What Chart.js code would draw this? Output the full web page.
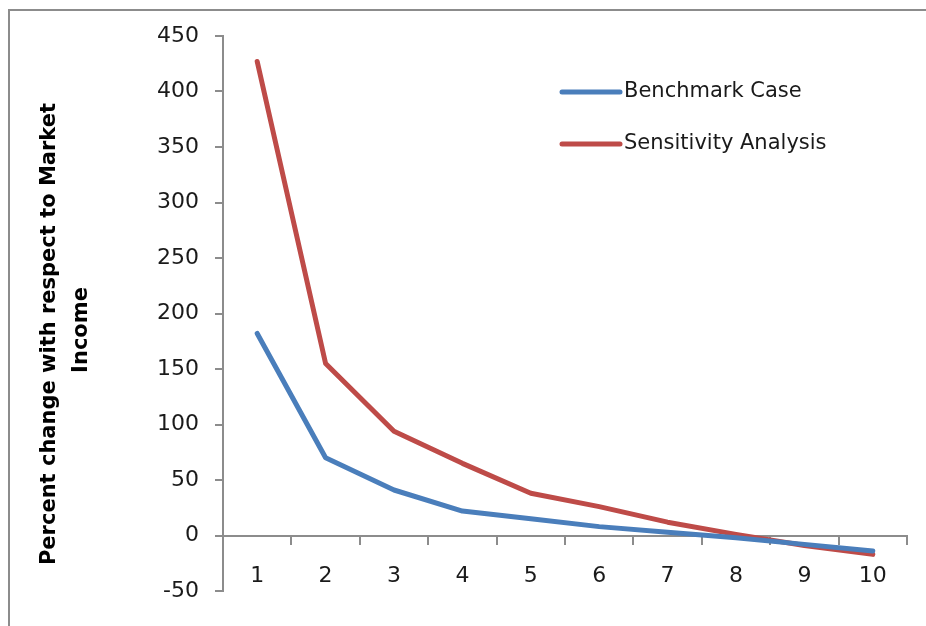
<!DOCTYPE html>
<html>
<head>
<meta charset="utf-8">
<script src="https://cdn.jsdelivr.net/npm/chart.js@4/dist/chart.umd.min.js"></script>
<style>
  html, body { margin: 0; padding: 0; background: #fff; overflow: hidden; }
  #wrap { width: 926px; height: 626px; }
</style>
</head>
<body>
<div id="wrap"><canvas id="chart" width="926" height="626"></canvas></div>
<script>
// Percent change with respect to market income, by decile
const CATEGORIES = ['1', '2', '3', '4', '5', '6', '7', '8', '9', '10'];
const BENCHMARK = [182, 70, 41, 22, 15, 8, 3, -2, -8, -14];
const SENSITIVITY = [427, 155, 94, 65, 38, 26, 12, 1, -9, -17];
const SERIES_LABELS = ['Benchmark Case', 'Sensitivity Analysis'];
const SERIES_COLORS = ['#4a7ebb', '#be4b48'];
const Y_TITLE = ['Percent change with respect to Market', 'Income'];

const AXIS_GRAY = '#8c8c8c';
const TEXT_COLOR = '#1a1a1a';

// outer frame like the Excel chart border (only top and left show)
const framePlugin = {
  id: 'frame',
  beforeDraw(chart) {
    const ctx = chart.ctx;
    ctx.save();
    ctx.fillStyle = '#fff';
    ctx.fillRect(0, 0, chart.width, chart.height);
    ctx.strokeStyle = AXIS_GRAY;
    ctx.lineWidth = 2;
    ctx.beginPath();
    ctx.moveTo(9, chart.height + 5);
    ctx.lineTo(9, 10);
    ctx.lineTo(chart.width + 5, 10);
    ctx.stroke();
    ctx.restore();
  }
};

// rotated two-line y title, placed like the original
const yTitlePlugin = {
  id: 'yTitle',
  afterDraw(chart) {
    const ctx = chart.ctx;
    ctx.save();
    ctx.fillStyle = '#000';
    ctx.font = 'bold 21px "DejaVu Sans"';
    ctx.textAlign = 'center';
    ctx.textBaseline = 'middle';
    [[50, 334], [82, 330]].forEach(([x, y], i) => {
      ctx.save();
      ctx.translate(x, y);
      ctx.rotate(-Math.PI / 2);
      ctx.fillText(Y_TITLE[i], 0, 0);
      ctx.restore();
    });
    ctx.restore();
  }
};

// legend drawn inside the plot area, top right
const insideLegend = {
  id: 'insideLegend',
  afterDatasetsDraw(chart) {
    const ctx = chart.ctx;
    ctx.save();
    chart.data.datasets.forEach((ds, i) => {
      const y = 92 + i * 52;
      ctx.strokeStyle = ds.borderColor;
      ctx.lineWidth = 5;
      ctx.lineCap = 'round';
      ctx.beginPath();
      ctx.moveTo(562, y);
      ctx.lineTo(620, y);
      ctx.stroke();
      ctx.fillStyle = TEXT_COLOR;
      ctx.font = '21px "DejaVu Sans"';
      ctx.textBaseline = 'middle';
      ctx.fillText(ds.label, 624, y);
    });
    ctx.restore();
  }
};

new Chart(document.getElementById('chart'), {
  type: 'line',
  data: {
    labels: CATEGORIES,
    datasets: [
      {
        label: SERIES_LABELS[0],
        data: BENCHMARK,
        borderColor: SERIES_COLORS[0],
        borderWidth: 5,
        pointRadius: 0,
        tension: 0,
        borderCapStyle: 'round',
        borderJoinStyle: 'round',
      },
      {
        label: SERIES_LABELS[1],
        data: SENSITIVITY,
        borderColor: SERIES_COLORS[1],
        borderWidth: 5,
        pointRadius: 0,
        tension: 0,
        borderCapStyle: 'round',
        borderJoinStyle: 'round',
      },
    ],
  },
  options: {
    responsive: false,
    animation: false,
    devicePixelRatio: 1,
    layout: { padding: { left: 0, right: 19, top: 36, bottom: 35 } },
    plugins: {
      legend: { display: false },
      tooltip: { enabled: false },
    },
    scales: {
      x: {
        type: 'category',
        position: { y: 0 },
        offset: true,
        grid: {
          offset: true,
          drawOnChartArea: false,
          drawTicks: true,
          tickLength: 8,
          color: AXIS_GRAY,
          lineWidth: 2,
        },
        border: { display: true, color: AXIS_GRAY, width: 2 },
        ticks: {
          color: TEXT_COLOR,
          font: { family: 'DejaVu Sans', size: 22 },
          padding: 20,
          maxRotation: 0,
        },
      },
      y: {
        min: -50,
        max: 450,
        afterFit: scale => { scale.width = 223; },
        grid: {
          drawOnChartArea: false,
          drawTicks: true,
          tickLength: 8,
          color: AXIS_GRAY,
          lineWidth: 2,
        },
        border: { display: true, color: AXIS_GRAY, width: 2 },
        ticks: {
          stepSize: 50,
          color: TEXT_COLOR,
          font: { family: 'DejaVu Sans', size: 22 },
          padding: 16,
        },
      },
    },
  },
  plugins: [framePlugin, yTitlePlugin, insideLegend],
});
</script>
</body>
</html>
